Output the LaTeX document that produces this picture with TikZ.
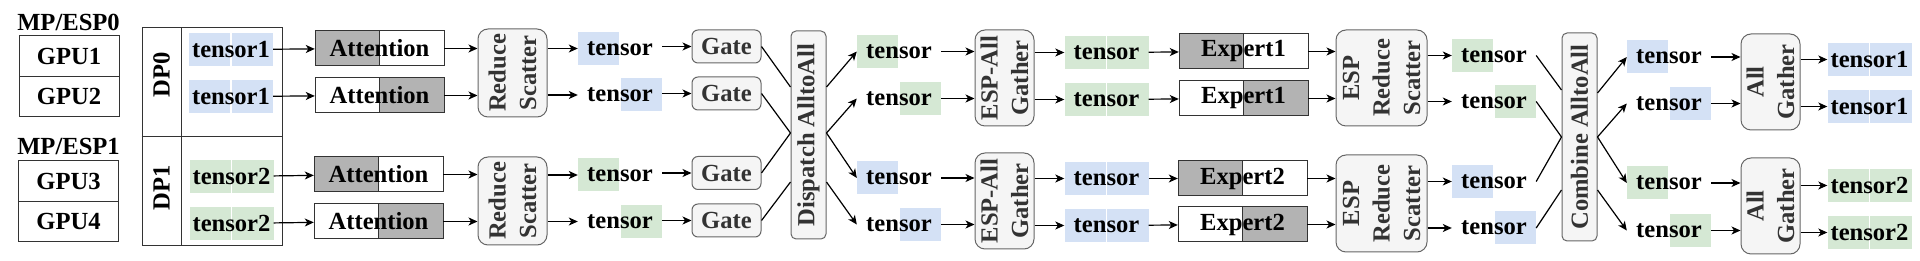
\documentclass[tikz,border=0pt]{standalone}
\usepackage{fontspec}
\setmainfont{Liberation Serif}
\usetikzlibrary{arrows.meta,calc}
\definecolor{hlb}{HTML}{D4E1F5}
\definecolor{hlg}{HTML}{D5E8D4}
\definecolor{grayhalf}{HTML}{B3B3B3}
\definecolor{rbfill}{HTML}{F5F5F5}
\definecolor{rbdraw}{HTML}{666666}
\definecolor{rbtext}{HTML}{333333}
\definecolor{bdark}{HTML}{333333}
\newcommand\dfont{\fontsize{24.6}{30.5}\selectfont\bfseries}
\newcommand\tensbx[6]{%
  \fill[#5] (#2-42,#3-16.5) rectangle (#2-0.7,#3+16.5);
  \fill[#6] (#2+0.7,#3-16.5) rectangle (#2+42,#3+16.5);
  \node[tn] (#1) at (#2,#3) {#4};}
\newcommand\halfbx[6]{%
  \filldraw[fill=#5,bline] (#2-64.5,#3-17.5) rectangle (#2,#3+17.5);
  \filldraw[fill=#6,bline] (#2,#3-17.5) rectangle (#2+64.5,#3+17.5);
  \node[hb] (#1) at (#2,#3) {#4};}
\tikzset{
  bline/.style={draw=bdark,line width=1pt},
  tn/.style={minimum width=84pt,minimum height=33pt,inner sep=0pt},
  hb/.style={minimum width=129pt,minimum height=35pt,inner sep=0pt},
  gpubx/.style={bline,minimum width=100pt,minimum height=40.5pt,inner sep=0pt},
  rbox/.style={draw=rbdraw,fill=rbfill,line width=1pt,text=rbtext,rotate=90,align=center,inner sep=0pt,rounded corners=10pt},
  gatebx/.style={draw=rbdraw,fill=rbfill,line width=1pt,text=rbtext,rounded corners=6pt,minimum width=69pt,minimum height=33pt,inner sep=0pt},
  arr/.style={-{Stealth[length=9pt,width=8pt,inset=2.5pt]},line width=1.2pt},
  ln/.style={line width=1.2pt}
}
% note: rotated boxes (rotate=90): picture-left = .north, picture-right = .south
\begin{document}
\begin{tikzpicture}[x=1pt,y=-1pt,font=\dfont]
\useasboundingbox (0,0) rectangle (1920,261);
% GPU groups
\node (mp0) at (68.5,22) {MP/ESP0};
\node[gpubx] (g1) at (69,56) {GPU1};
\node[gpubx] (g2) at (69,96.5) {GPU2};
\node (mp1) at (68.5,146) {MP/ESP1};
\node[gpubx] (g3) at (68.5,181) {GPU3};
\node[gpubx] (g4) at (68.5,221.5) {GPU4};
% DP box
\node[bline,minimum width=140pt,minimum height=218pt,inner sep=0pt] (dp) at (212,137) {};
\draw[bline] (181,28) -- (181,246);
\draw[bline] (dp.west) -- (dp.east);
\node[rotate=90] (dp0) at (161.5,75) {DP0};
\node[rotate=90] (dp1) at (161.5,188) {DP1};
\tensbx{t1}{231}{49.5}{tensor1}{hlb}{hlb}
\tensbx{t2}{231}{96.5}{tensor1}{hlb}{hlb}
\tensbx{t3}{231.5}{176.5}{tensor2}{hlg}{hlg}
\tensbx{t4}{231.5}{223.5}{tensor2}{hlg}{hlg}
% Attention
\halfbx{a1}{379.5}{48.5}{Attention}{grayhalf}{white}
\halfbx{a2}{379.5}{95.5}{Attention}{white}{grayhalf}
\halfbx{a3}{378.5}{174.5}{Attention}{grayhalf}{white}
\halfbx{a4}{378.5}{221.5}{Attention}{white}{grayhalf}
\foreach \i in {1,...,4} {\draw[arr] (t\i) -- (a\i);}
% Reduce scatter
\node[rbox,minimum width=88pt,minimum height=69pt] (rs1) at (512.5,73) {Reduce\\Scatter};
\node[rbox,minimum width=88pt,minimum height=69pt] (rs2) at (512.5,201) {Reduce\\Scatter};
\draw[arr] (a1.east) -- (a1.east -| rs1.north);
\draw[arr] (a2.east) -- (a2.east -| rs1.north);
\draw[arr] (a3.east) -- (a3.east -| rs2.north);
\draw[arr] (a4.east) -- (a4.east -| rs2.north);
\tensbx{r1}{620}{48.5}{tensor}{hlb}{white}
\tensbx{r2}{620}{95}{tensor}{white}{hlb}
\tensbx{r3}{620}{175}{tensor}{hlg}{white}
\tensbx{r4}{620}{221.5}{tensor}{white}{hlg}
\draw[arr] (rs1.south |- r1.west) -- (r1.west);
\draw[arr] (rs1.south |- r2.west) -- (r2.west);
\draw[arr] (rs2.south |- r3.west) -- (r3.west);
\draw[arr] (rs2.south |- r4.west) -- (r4.west);
% Gates
\node[gatebx] (gt1) at (726.5,46.5) {Gate};
\node[gatebx] (gt2) at (726.5,93.5) {Gate};
\node[gatebx] (gt3) at (726.5,173) {Gate};
\node[gatebx] (gt4) at (726.5,220.5) {Gate};
\foreach \i in {1,...,4} {\draw[arr] (r\i.east |- gt\i.west) -- (gt\i.west);}
% Dispatch
\node[rbox,rounded corners=5pt,minimum width=208pt,minimum height=35pt] (dsp) at (808.5,135) {Dispatch AlltoAll};
\draw[ln] (gt1.east) -- ([yshift=48pt]dsp.north);
\draw[ln] (gt2.east) -- ([yshift=2pt]dsp.north);
\draw[ln] (gt3.east) -- ([yshift=2pt]dsp.north);
\draw[ln] (gt4.east) -- ([yshift=-47pt]dsp.north);
\tensbx{d1}{899}{51.5}{tensor}{hlg}{white}
\tensbx{d2}{899}{98.5}{tensor}{white}{hlg}
\tensbx{d3}{899}{178}{tensor}{hlb}{white}
\tensbx{d4}{899}{224.5}{tensor}{white}{hlb}
\draw[arr] ([yshift=48pt]dsp.south) -- (d1.west);
\draw[arr] ([yshift=2pt]dsp.south) -- (d2.west);
\draw[arr] ([yshift=2pt]dsp.south) -- (d3.west);
\draw[arr] ([yshift=-47pt]dsp.south) -- (d4.west);
% ESP-All Gather
\node[rbox,minimum width=96pt,minimum height=59pt] (eg1) at (1004.5,78) {ESP-All\\Gather};
\node[rbox,minimum width=96pt,minimum height=59pt] (eg2) at (1004.5,201) {ESP-All\\Gather};
\draw[arr] (d1.east) -- (d1.east -| eg1.north);
\draw[arr] (d2.east) -- (d2.east -| eg1.north);
\draw[arr] (d3.east) -- (d3.east -| eg2.north);
\draw[arr] (d4.east) -- (d4.east -| eg2.north);
\tensbx{f1}{1106.5}{52.5}{tensor}{hlg}{hlg}
\tensbx{f2}{1106.5}{99.5}{tensor}{hlg}{hlg}
\tensbx{f3}{1106.5}{178.5}{tensor}{hlb}{hlb}
\tensbx{f4}{1106.5}{225.5}{tensor}{hlb}{hlb}
\draw[arr] (eg1.south |- f1.west) -- (f1.west);
\draw[arr] (eg1.south |- f2.west) -- (f2.west);
\draw[arr] (eg2.south |- f3.west) -- (f3.west);
\draw[arr] (eg2.south |- f4.west) -- (f4.west);
% Experts
\halfbx{e1}{1243.5}{51.5}{Expert1}{grayhalf}{white}
\halfbx{e2}{1243.5}{98.5}{Expert1}{white}{grayhalf}
\halfbx{e3}{1242.5}{178.5}{Expert2}{grayhalf}{white}
\halfbx{e4}{1242.5}{224.5}{Expert2}{white}{grayhalf}
\foreach \i in {1,...,4} {\draw[arr] (f\i) -- (e\i);}
% ESP Reduce Scatter
\node[rbox,minimum width=96pt,minimum height=91pt] (ers1) at (1381.5,78) {ESP\\Reduce\\Scatter};
\node[rbox,minimum width=97pt,minimum height=91pt] (ers2) at (1381.5,203.5) {ESP\\Reduce\\Scatter};
\draw[arr] (e1.east) -- (e1.east -| ers1.north);
\draw[arr] (e2.east) -- (e2.east -| ers1.north);
\draw[arr] (e3.east) -- (e3.east -| ers2.north);
\draw[arr] (e4.east) -- (e4.east -| ers2.north);
\tensbx{h1}{1494}{55.5}{tensor}{hlg}{white}
\tensbx{h2}{1494}{101.5}{tensor}{white}{hlg}
\tensbx{h3}{1494}{181.5}{tensor}{hlb}{white}
\tensbx{h4}{1494}{228}{tensor}{white}{hlb}
\draw[arr] (ers1.south |- h1.west) -- (h1.west);
\draw[arr] (ers1.south |- h2.west) -- (h2.west);
\draw[arr] (ers2.south |- h3.west) -- (h3.west);
\draw[arr] (ers2.south |- h4.west) -- (h4.west);
% Combine
\node[rbox,rounded corners=5pt,minimum width=208pt,minimum height=35pt] (cmb) at (1579.5,137) {Combine AlltoAll};
\draw[ln] (h1.east) -- ([yshift=47pt]cmb.north);
\draw[ln] (h2.east) -- (cmb.north);
\draw[ln] (h3.east) -- (cmb.north);
\draw[ln] (h4.east) -- ([yshift=-53pt]cmb.north);
\tensbx{k1}{1669}{57}{tensor}{hlb}{white}
\tensbx{k2}{1669}{103.5}{tensor}{white}{hlb}
\tensbx{k3}{1669}{183}{tensor}{hlg}{white}
\tensbx{k4}{1669}{230.5}{tensor}{white}{hlg}
\draw[arr] ([yshift=44pt]cmb.south) -- (k1.west);
\draw[arr] (cmb.south) -- (k2.west);
\draw[arr] (cmb.south) -- (k3.west);
\draw[arr] ([yshift=-53pt]cmb.south) -- (k4.west);
% All Gather
\node[rbox,minimum width=96pt,minimum height=59pt] (ag1) at (1770.5,82) {All\\Gather};
\node[rbox,minimum width=96pt,minimum height=59pt] (ag2) at (1770.5,206) {All\\Gather};
\draw[arr] (k1.east) -- (k1.east -| ag1.north);
\draw[arr] (k2.east) -- (k2.east -| ag1.north);
\draw[arr] (k3.east) -- (k3.east -| ag2.north);
\draw[arr] (k4.east) -- (k4.east -| ag2.north);
\tensbx{z1}{1869.5}{59.5}{tensor1}{hlb}{hlb}
\tensbx{z2}{1869.5}{106.5}{tensor1}{hlb}{hlb}
\tensbx{z3}{1869.5}{185.5}{tensor2}{hlg}{hlg}
\tensbx{z4}{1869.5}{232.5}{tensor2}{hlg}{hlg}
\draw[arr] (ag1.south |- z1.west) -- (z1.west);
\draw[arr] (ag1.south |- z2.west) -- (z2.west);
\draw[arr] (ag2.south |- z3.west) -- (z3.west);
\draw[arr] (ag2.south |- z4.west) -- (z4.west);
\end{tikzpicture}
\end{document}
